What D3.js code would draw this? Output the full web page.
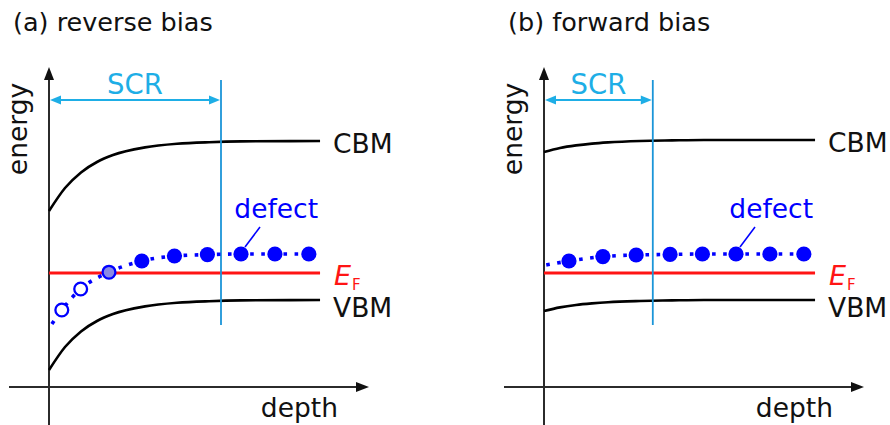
<!DOCTYPE html>
<html>
<head>
<meta charset="utf-8">
<script src="https://cdn.jsdelivr.net/npm/d3@7"></script>
<style>
  html, body { margin: 0; padding: 0; background: #fff; }
  svg text { font-family: "DejaVu Sans", Verdana, sans-serif; }
</style>
</head>
<body>
<svg id="chart" width="890" height="425"></svg>
<script>
// ---------- data (arbitrary units: depth 0..100, energy 0..16) ----------
const panelTitles = ["(a) reverse bias", "(b) forward bias"];
const bandLabels = ["CBM", "VBM"];
const axisLabels = ["energy", "depth"];
const defectLabel = "defect";
const scrLabel = "SCR";

const bandDepth = [0, 5, 10, 15, 20, 30, 40, 50, 60, 84.7];
const cbmA = [8.8, 9.95, 10.73, 11.25, 11.6, 11.98, 12.16, 12.24, 12.28, 12.3];
const vbmA = [0.85, 2.0, 2.78, 3.3, 3.65, 4.03, 4.21, 4.29, 4.33, 4.35];
const cbmB = [11.75, 11.95, 12.08, 12.17, 12.23, 12.3, 12.33, 12.35, 12.35, 12.35];
const vbmB = [3.8, 3.98, 4.1, 4.18, 4.24, 4.3, 4.33, 4.35, 4.35, 4.35];

const fermiLevel = [5.7, 5.7];
const scrWidth = [53.75, 34];

const defectStartA = [0.9, 3.15];
const defectDepthA = [4, 9.9, 18.75, 29, 39.2, 49.5, 60, 70.6, 81.2];
const defectEnergyA = [3.85, 4.9, 5.74, 6.3, 6.55, 6.62, 6.65, 6.65, 6.65];
const defectStateA = ["empty", "empty", "half", "full", "full", "full", "full", "full", "full"];

const defectStartB = [0.7, 6.1];
const defectDepthB = [7.8, 18.4, 28.8, 39.4, 49.5, 60, 70.6, 81.2];
const defectEnergyB = [6.3, 6.52, 6.6, 6.63, 6.65, 6.65, 6.65, 6.65];
const defectStateB = ["full", "full", "full", "full", "full", "full", "full", "full"];

const leaderIndex = [6, 5];

const panels = [
  { title: panelTitles[0], cbm: cbmA, vbm: vbmA, ef: fermiLevel[0], scr: scrWidth[0],
    start: defectStartA, dd: defectDepthA, de: defectEnergyA, ds: defectStateA, leader: leaderIndex[0], x0: 49 },
  { title: panelTitles[1], cbm: cbmB, vbm: vbmB, ef: fermiLevel[1], scr: scrWidth[1],
    start: defectStartB, dd: defectDepthB, de: defectEnergyB, ds: defectStateB, leader: leaderIndex[1], x0: 544 }
];

// ---------- drawing ----------
const svg = d3.select("#chart");
const y = d3.scaleLinear().domain([0, 16]).range([387, 67]);

const axisColor = "#2b2b2b";
const scrColor = "#1eaee6";
const vlineColor = "#1b95d8";
const blue = "#0000ff";
const red = "#ff1414";

function tri(tipX, tipY, dirX, dirY, len, half) {
  const bx = tipX - dirX * len, by = tipY - dirY * len;
  const px = -dirY, py = dirX;
  return `M${tipX},${tipY}L${bx + px * half},${by + py * half}L${bx - px * half},${by - py * half}Z`;
}

panels.forEach(p => {
  const x = d3.scaleLinear().domain([0, 100]).range([p.x0, p.x0 + 320]);
  const g = svg.append("g");

  // title
  g.append("text").attr("x", x(0) - 36).attr("y", 31)
    .attr("font-size", 25.5).attr("fill", "#111").text(p.title);

  // axes
  g.append("line").attr("x1", x(0)).attr("x2", x(0))
    .attr("y1", y(-2.5)).attr("y2", y(15.4))
    .attr("stroke", axisColor).attr("stroke-width", 2);
  g.append("path").attr("d", tri(x(0), y(16), 0, -1, 13, 5)).attr("fill", "#111");
  g.append("line").attr("x1", x(-12.5)).attr("x2", x(96))
    .attr("y1", y(0)).attr("y2", y(0))
    .attr("stroke", axisColor).attr("stroke-width", 2);
  g.append("path").attr("d", tri(x(100), y(0), 1, 0, 13, 5)).attr("fill", "#111");

  g.append("text")
    .attr("transform", `translate(${x(0) - 22},${y(12.9)}) rotate(-90)`)
    .attr("text-anchor", "middle").attr("font-size", 26.5).attr("fill", "#111")
    .text(axisLabels[0]);
  g.append("text").attr("x", x(90.3)).attr("y", 417)
    .attr("text-anchor", "end").attr("font-size", 26.5).attr("fill", "#111")
    .text(axisLabels[1]);

  // bands
  const band = d3.line().x((d, i) => x(bandDepth[i])).y(d => y(d)).curve(d3.curveMonotoneX);
  [p.cbm, p.vbm].forEach((arr, k) => {
    g.append("path").attr("d", band(arr)).attr("fill", "none")
      .attr("stroke", "#000").attr("stroke-width", 2.6);
    g.append("text").attr("x", x(bandDepth[bandDepth.length - 1]) + 13)
      .attr("y", y(arr[arr.length - 1]) + (k === 0 ? 11.5 : 16.7))
      .attr("font-size", 26.5).attr("fill", "#111").text(bandLabels[k]);
  });

  // Fermi level
  const xEnd = bandDepth[bandDepth.length - 1];
  g.append("line").attr("x1", x(0)).attr("x2", x(xEnd))
    .attr("y1", y(p.ef)).attr("y2", y(p.ef))
    .attr("stroke", red).attr("stroke-width", 2.8);
  const ef = g.append("text").attr("x", x(xEnd) + 14).attr("y", y(p.ef) + 11.5)
    .attr("font-size", 27).attr("fill", red);
  ef.append("tspan").attr("font-style", "italic").text("E");
  ef.append("tspan").attr("font-size", 15).attr("dx", 1).attr("dy", 5).text("F");

  // SCR boundary + arrow
  g.append("line").attr("x1", x(p.scr)).attr("x2", x(p.scr))
    .attr("y1", y(15.35)).attr("y2", y(3.1))
    .attr("stroke", vlineColor).attr("stroke-width", 1.8);
  const ay = y(14.35);
  g.append("line").attr("x1", x(0) + 8).attr("x2", x(p.scr) - 8)
    .attr("y1", ay).attr("y2", ay).attr("stroke", scrColor).attr("stroke-width", 2);
  g.append("path").attr("d", tri(x(0) + 1, ay, -1, 0, 11, 4.5)).attr("fill", scrColor);
  g.append("path").attr("d", tri(x(p.scr) - 1, ay, 1, 0, 11, 4.5)).attr("fill", scrColor);
  g.append("text").attr("x", x(p.scr / 2)).attr("y", y(14.65))
    .attr("text-anchor", "middle").attr("font-size", 27.5).attr("fill", scrColor)
    .text(scrLabel);

  // defect level dotted line
  const pts = [p.start].concat(p.dd.map((d, i) => [d, p.de[i]]));
  const dl = d3.line().x(d => x(d[0])).y(d => y(d[1])).curve(d3.curveMonotoneX);
  g.append("path").attr("d", dl(pts)).attr("fill", "none")
    .attr("stroke", blue).attr("stroke-width", 3.6)
    .attr("stroke-dasharray", "3.6 7.5");

  // leader line + label
  const li = p.leader;
  const lx = x(p.dd[li]), ly = y(p.de[li]);
  g.append("line").attr("x1", lx + 4).attr("y1", ly - 7)
    .attr("x2", lx + 19).attr("y2", ly - 27)
    .attr("stroke", blue).attr("stroke-width", 1.6);
  g.append("text").attr("x", x(xEnd) - 2).attr("y", 218)
    .attr("text-anchor", "end").attr("font-size", 26.5).attr("fill", blue)
    .text(defectLabel);

  // defect markers
  p.dd.forEach((d, i) => {
    const s = p.ds[i];
    g.append("circle").attr("cx", x(d)).attr("cy", y(p.de[i]))
      .attr("r", s === "full" ? 7.6 : 6.4)
      .attr("fill", s === "full" ? blue : (s === "half" ? "#8a8ae6" : "#fff"))
      .attr("stroke", blue).attr("stroke-width", s === "full" ? 0 : 2.3);
  });
});
</script>
</body>
</html>
